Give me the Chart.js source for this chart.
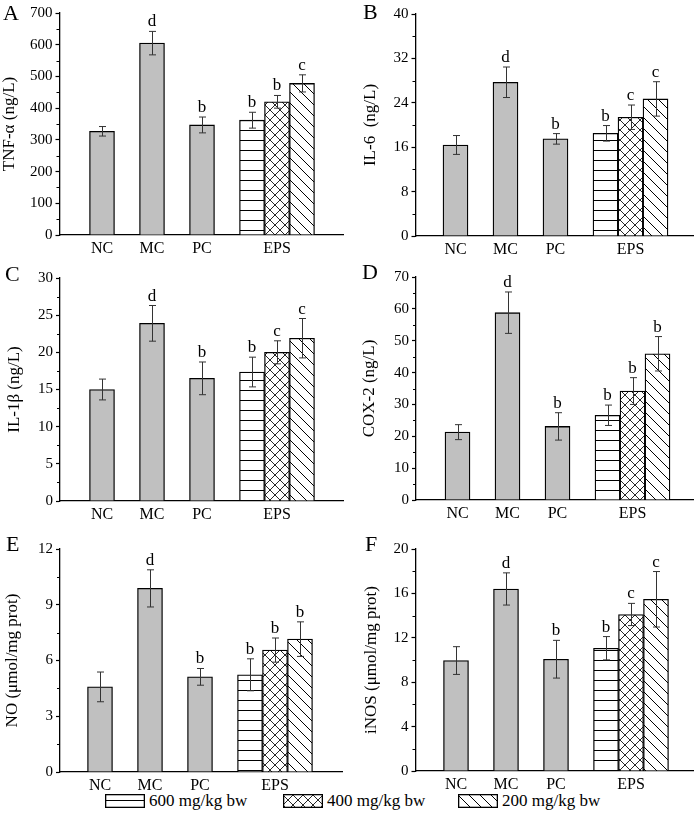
<!DOCTYPE html>
<html>
<head>
<meta charset="utf-8">
<script src="https://cdn.jsdelivr.net/npm/chart.js@4.4.1/dist/chart.umd.min.js"></script>
<style>
  body { margin: 0; background: #fff; }
  #page { position: relative; width: 700px; height: 813px; font-family: 'Liberation Serif', 'Times New Roman', serif; color: #000; }
  #page canvas.panel { position: absolute; }
  .tag { position: absolute; font-size: 22px; line-height: 1; }
  .key { position: absolute; top: 794px; height: 13px; }
  .key canvas { position: absolute; left: 0; top: 0; }
  .key span { position: absolute; top: 0; font-size: 17px; line-height: 13px; white-space: nowrap; }
</style>
</head>
<body>
<div id="page"></div>
<script>
// Groups on the x axis and where each bar sits
const groups = ['NC', 'MC', 'PC', 'EPS'];
const groupPos = [2, 4, 6, 9];
const barPos = [2, 4, 6, 8, 9, 10];
const doses = ['600 mg/kg bw', '400 mg/kg bw', '200 mg/kg bw'];

// A: TNF-α
const tnfMean = [327, 605, 347, 362, 420, 478];
const tnfErr = [15, 37, 25, 25, 20, 27];
const tnfSig = ['', 'd', 'b', 'b', 'b', 'c'];

// B: IL-6
const il6Mean = [16.4, 27.7, 17.5, 18.5, 21.4, 24.7];
const il6Err = [1.7, 2.75, 0.95, 1.4, 2.2, 3.1];
const il6Sig = ['', 'd', 'b', 'b', 'c', 'c'];

// C: IL-1β
const il1bMean = [15.0, 23.9, 16.5, 17.35, 20.0, 21.9];
const il1bErr = [1.4, 2.4, 2.2, 2.0, 1.55, 2.65];
const il1bSig = ['', 'd', 'b', 'b', 'c', 'c'];

// D: COX-2
const coxMean = [21.3, 58.8, 23.1, 26.6, 34.2, 45.9];
const coxErr = [2.35, 6.5, 4.3, 3.2, 4.2, 5.4];
const coxSig = ['', 'd', 'b', 'b', 'b', 'b'];

// E: NO
const noMean = [4.58, 9.88, 5.12, 5.23, 6.56, 7.15];
const noErr = [0.8, 1.0, 0.45, 0.86, 0.65, 0.93];
const noSig = ['', 'd', 'b', 'b', 'b', 'b'];

// F: iNOS
const inosMean = [9.95, 16.4, 10.07, 11.06, 14.1, 15.47];
const inosErr = [1.25, 1.45, 1.7, 1.05, 1.0, 2.5];
const inosSig = ['', 'd', 'b', 'b', 'c', 'c'];

Chart.defaults.font.family = "'Liberation Serif', 'Times New Roman', serif";
Chart.defaults.color = '#000';

// Hatch fills for the EPS bars
function makePattern(kind) {
    const s = kind === 'cross' ? 10 : kind === 'diag' ? 11 : 10;
    const c = document.createElement('canvas');
    c.width = s;
    c.height = s;
    const g = c.getContext('2d');
    g.fillStyle = '#fff';
    g.fillRect(0, 0, s, s);
    g.strokeStyle = '#000';
    g.lineWidth = kind === 'cross' ? 0.85 : 1;
    g.beginPath();
    if (kind === 'horiz') {
        g.moveTo(0, 0.5);
        g.lineTo(s, 0.5);
    } else {
        g.moveTo(-1, -1); g.lineTo(s + 1, s + 1);
        g.moveTo(s - 1, -1); g.lineTo(s + 1, 1);
        g.moveTo(-1, s - 1); g.lineTo(1, s + 1);
        if (kind === 'cross') {
            g.moveTo(-1, s + 1); g.lineTo(s + 1, -1);
            g.moveTo(-1, 1); g.lineTo(1, -1);
            g.moveTo(s - 1, s + 1); g.lineTo(s + 1, s - 1);
        }
    }
    g.stroke();
    return g.createPattern(c, 'repeat');
}
const hatch = [makePattern('horiz'), makePattern('cross'), makePattern('diag')];
const barFills = ['#c0c0c0', '#c0c0c0', '#c0c0c0', ...hatch];

// Error bars, letters and minor y ticks
const errorMarks = {
    id: 'errorMarks',
    afterDatasetsDraw(chart) {
        const ctx = chart.ctx;
        const y = chart.scales.y;
        const ds = chart.data.datasets[0];
        const meta = chart.getDatasetMeta(0);
        ctx.save();
        ctx.strokeStyle = '#333';
        ctx.lineWidth = 1;
        ctx.fillStyle = '#000';
        ctx.font = "17px 'Liberation Serif', serif";
        ctx.textAlign = 'center';
        ctx.textBaseline = 'alphabetic';
        meta.data.forEach((bar, i) => {
            const v = ds.data[i].y;
            const hi = y.getPixelForValue(v + ds.errors[i]);
            const lo = y.getPixelForValue(v - ds.errors[i]);
            const x = Math.round(bar.x) + 0.5;
            ctx.beginPath();
            ctx.moveTo(x, hi); ctx.lineTo(x, lo);
            ctx.moveTo(x - 3.5, hi); ctx.lineTo(x + 3.5, hi);
            ctx.moveTo(x - 3.5, lo); ctx.lineTo(x + 3.5, lo);
            ctx.stroke();
            if (ds.sig[i]) ctx.fillText(ds.sig[i], bar.x, hi - 5);
        });
        const step = y.options.ticks.stepSize;
        ctx.strokeStyle = '#000';
        ctx.lineWidth = 1.2;
        ctx.beginPath();
        for (let v = step / 2; v < y.max; v += step) {
            const py = Math.round(y.getPixelForValue(v)) + 0.5;
            ctx.moveTo(y.right - 3, py);
            ctx.lineTo(y.right, py);
        }
        ctx.stroke();
        ctx.restore();
    }
};

const panels = [
    { tag: 'A', tagAt: [3, 2], box: [0, 0, 350, 260], area: [59.5, 13, 343, 235], ncX: 102, titleX: 10,
      title: 'TNF-α (ng/L)', max: 700, step: 100, mean: tnfMean, err: tnfErr, sig: tnfSig },
    { tag: 'B', tagAt: [363, 1], box: [350, 0, 350, 260], area: [415.5, 14, 693, 236], ncX: 455.5, titleX: 21,
      title: 'IL-6  (ng/L)', max: 40, step: 8, mean: il6Mean, err: il6Err, sig: il6Sig },
    { tag: 'C', tagAt: [5, 263], box: [0, 260, 350, 270], area: [60, 278, 343, 501], ncX: 102, titleX: 15,
      title: 'IL-1β (ng/L)', max: 30, step: 5, mean: il1bMean, err: il1bErr, sig: il1bSig },
    { tag: 'D', tagAt: [362, 261], box: [350, 260, 350, 270], area: [416, 277, 693, 500], ncX: 457.5, titleX: 20,
      title: 'COX-2 (ng/L)', max: 70, step: 10, mean: coxMean, err: coxErr, sig: coxSig },
    { tag: 'E', tagAt: [6, 533], box: [0, 530, 350, 260], area: [60, 549, 342, 772], ncX: 100, titleX: 13,
      title: 'NO (μmol/mg prot)', max: 12, step: 3, mean: noMean, err: noErr, sig: noSig },
    { tag: 'F', tagAt: [365, 533], box: [350, 530, 350, 260], area: [415.5, 549, 693, 771], ncX: 456, titleX: 22,
      title: 'iNOS (μmol/mg prot)', max: 20, step: 4, mean: inosMean, err: inosErr, sig: inosSig },
];

const page = document.getElementById('page');

function buildPanel(p) {
    const [bx, by, bw, bh] = p.box;
    const [al, at, ar, ab] = p.area;
    const canvas = document.createElement('canvas');
    canvas.className = 'panel';
    canvas.width = bw;
    canvas.height = bh;
    canvas.style.left = bx + 'px';
    canvas.style.top = by + 'px';
    page.appendChild(canvas);

    const tag = document.createElement('div');
    tag.className = 'tag';
    tag.textContent = p.tag;
    tag.style.left = p.tagAt[0] + 'px';
    tag.style.top = p.tagAt[1] + 'px';
    page.appendChild(tag);

    const xMin = 2 - (p.ncX - al) / 25;
    const xMax = xMin + (ar - al) / 25;

    new Chart(canvas, {
        type: 'bar',
        data: {
            datasets: [{
                data: barPos.map((x, i) => ({ x: x, y: p.mean[i] })),
                errors: p.err,
                sig: p.sig,
                backgroundColor: barFills,
                borderColor: '#000',
                borderWidth: 1.3,
                barPercentage: 1,
                categoryPercentage: 1,
            }],
        },
        options: {
            responsive: false,
            animation: false,
            layout: { padding: { top: at - by, right: bx + bw - ar, left: 0, bottom: 0 } },
            plugins: { legend: { display: false }, tooltip: { enabled: false } },
            scales: {
                x: {
                    type: 'linear',
                    min: xMin,
                    max: xMax,
                    offset: false,
                    grid: { display: false, drawTicks: false, offset: false },
                    border: { color: '#000', width: 1.3 },
                    afterBuildTicks: (s) => { s.ticks = groupPos.map(v => ({ value: v })); },
                    ticks: { callback: (v, i) => groups[i], font: { size: 16 }, padding: 4, maxRotation: 0, autoSkip: false },
                    afterFit: (s) => { s.height = by + bh - ab; },
                },
                y: {
                    min: 0,
                    max: p.max,
                    ticks: { stepSize: p.step, font: { size: 15 }, padding: 3 },
                    grid: { drawOnChartArea: false, tickLength: 4, tickColor: '#000', tickWidth: 1.2 },
                    border: { color: '#000', width: 1.3 },
                    title: { display: true, text: p.title, font: { size: 17 }, padding: { top: p.titleX - 10.2, bottom: 0 } },
                    afterFit: (s) => { s.width = al - bx; },
                },
            },
        },
        plugins: [errorMarks],
    });
}

panels.forEach(buildPanel);

// Shared legend under the bottom row
const keyAt = [[105, 149], [283, 327], [458, 502]];
doses.forEach((label, i) => {
    const key = document.createElement('div');
    key.className = 'key';
    key.style.left = keyAt[i][0] + 'px';
    const sw = document.createElement('canvas');
    sw.width = 40;
    sw.height = 14;
    const g = sw.getContext('2d');
    g.fillStyle = hatch[i];
    g.save();
    g.translate(i === 0 ? 1 : 0, i === 0 ? 6 : 1);
    g.fillRect(i === 0 ? -1 : 0, i === 0 ? -6 : -1, 40, 14);
    g.restore();
    g.strokeStyle = '#000';
    g.lineWidth = 1.3;
    g.strokeRect(0.65, 0.65, 38.7, 12.7);
    key.appendChild(sw);
    const span = document.createElement('span');
    span.textContent = label;
    span.style.left = (keyAt[i][1] - keyAt[i][0]) + 'px';
    key.appendChild(span);
    page.appendChild(key);
});
</script>
</body>
</html>
